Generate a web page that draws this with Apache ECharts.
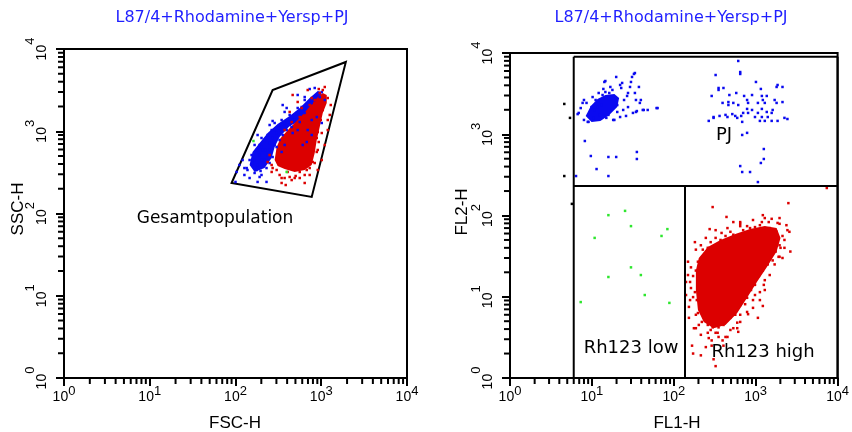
<!DOCTYPE html>
<html><head><meta charset="utf-8">
<script src="https://cdn.jsdelivr.net/npm/echarts@6/dist/echarts.min.js"></script>
<style>html,body{margin:0;padding:0;background:#fff}#c{width:852px;height:432px}</style>
</head><body><div id="c"></div>
<script>
// ---------- data ----------
const titleText = 'L87/4+Rhodamine+Yersp+PJ';
const tickExponents = ['0', '1', '2', '3', '4'];
const minorTicks = [2,3,4,5,6,7,8,9,20,30,40,50,60,70,80,90,200,300,400,500,600,700,800,900,2000,3000,4000,5000,6000,7000,8000,9000];

// Left plot: FSC-H vs SSC-H
const leftBlueCore = [[146,389],[158,560],[191,720],[237,952],[310,1225],[428,1532],[561,1918],[733,2535],[910,3085],[1014,2999],[960,2399],[733,1717],[561,1333],[428,1159],[327,851],[286,643],[264,473],[218,357],[167,320]];
const leftRedCore = [[286,447],[302,643],[336,828],[440,1127],[561,1449],[677,1812],[795,2205],[935,2685],[1042,2915],[1159,2760],[1159,2205],[1042,1667],[960,1127],[886,783],[839,544],[774,389],[641,338],[490,320],[374,348],[310,378]];
const leftBlue = [[733,3260],[1014,2999],[839,2399],[960,2606],[1099,2399],[591,1972],[677,2084],[774,2205],[641,1667],[517,1667],[464,1370],[395,1918],[355,2084],[561,1294],[452,1127],[374,1260],[327,1096],[395,1035],[302,952],[264,1035],[271,828],[237,900],[218,783],[191,681],[250,720],[302,643],[207,592],[176,592],[191,514],[237,514],[271,486],[167,447],[218,447],[250,411],[146,447],[176,338],[230,357],[138,338],[127,357],[167,311],[191,278],[327,783],[345,560],[286,1260],[464,952],[531,1035],[695,1035],[774,900],[677,740],[608,681],[886,1489],[1014,1260],[774,1370],[641,2399],[531,2760],[271,1333],[318,1096],[135,357],[196,329],[181,242],[230,242],[103,320],[100,242],[154,514],[158,411],[201,643],[224,592],[250,592],[286,681],[355,900],[428,1191],[490,1370],[561,1578],[641,1918],[374,681],[201,447],[181,389],
  [127,294],[146,270],[201,294],[111,389],[121,447],[167,681],[201,828],[286,1035],[345,1370],[428,1578],[531,1918],[641,2606],[839,3357],[374,1717],[250,1191],[181,900]];
const leftRed = [[464,2760],[531,2270],[695,3170],[774,2535],[1191,1370],[1014,952],[935,740],[886,560],[839,411],[677,338],[561,320],[327,294],[345,235],[428,278],[302,338],[271,357],[591,1918],[428,1717],[677,1578],[1191,2535],[1042,3170],[935,3260],[1099,3451],[960,2915],[490,270],[406,320],[886,828],[910,592],[795,423],[561,473],[355,783],[374,1035],[452,1294],[561,1489],[733,2084],[839,2399],[1042,1812],[986,1370],[910,979],[250,514],[264,389],[641,294],[733,357],[503,286],[374,270],
  [345,270],[452,255],[561,270],[733,294],[910,338],[1014,447],[1099,681],[1191,1035],[1256,1578],[264,320],[237,423],[385,222],[641,235],[1291,2084]];
const leftGreen = [[162,761],[395,320]];
const gateVertices = [[90,235],[271,3170],[1935,6950],[774,159]];

// Right plot: FL1-H vs FL2-H
const rightBlueCore = [[8.4,1680],[9.7,2230],[11.7,2720],[14.6,3040],[18.8,3130],[21.5,2790],[20.4,2160],[16.3,1730],[12.7,1460],[9.9,1420]];
const rightBlueLowRh = [[32.6,5520],[30.9,5070],[19.8,5070],[22.1,4040],[22.8,3710],[14.6,4520],[29.2,3820],[16.8,3820],[14.6,3310],[27.6,3220],[33.5,3220],[34.5,2640],[38.5,2430],[27.6,2160],[31.7,1830],[34.5,1880],[41.8,1990],[48.0,1990],[63.4,2100],[24.1,1990],[22.1,1630],[18.2,1500],[15.0,1590],[8.0,2640],[8.6,2430],[6.9,1830],[8.0,1500],[9.1,1420],[10.5,1590],[9.9,2160],[12.1,3220],[11.1,2640],[33.5,5670],[14.2,4400],[23.4,4280],[37.5,3820],[30.0,4400],[39.6,2640],[43.0,1990],[35.4,1930],[61.6,2100],[18.8,1500],[8.9,1420],[6.7,1770],[7.7,2430],[8.2,826],[9.7,540],[15.9,525],[19.8,525],[35.4,605],[35.4,496],[11.4,373],[15.9,306],[6.4,306],[13.5,3040],[16.3,3220],[19.3,2790],[20.4,2290],[13.1,2290],[10.8,1990],[20.4,1880],[12.4,1730],[15.9,1730],[24.7,2640],[26.9,2960],[17.8,3510],[11.7,2160],[7.3,2100],[10.2,2870],[26.1,1680],[13.8,3610]];
const rightBlueHighRh = [[612,7980],[647,5830],[647,5520],[324,5360],[1007,4400],[1850,4040],[1800,3820],[2124,3820],[1156,3610],[352,3710],[352,3510],[404,3710],[290,2960],[477,3040],[579,3220],[722,2960],[902,3040],[1189,2960],[1365,2960],[1222,2640],[785,2640],[394,2430],[464,2490],[464,2290],[533,2430],[612,2290],[807,2430],[1064,2430],[1291,2430],[1703,2640],[1800,2430],[2124,2490],[785,2050],[902,1990],[1189,2050],[1365,1880],[1611,1990],[1567,1830],[1064,1830],[703,1830],[518,1770],[428,1730],[362,1680],[306,1630],[452,1630],[563,1680],[665,1680],[807,1830],[980,1630],[1189,1630],[1403,1630],[1291,1460],[1567,1460],[1850,1460],[2244,1590],[2440,1540],[267,1460],[306,1590],[595,1590],[684,1420],[1125,1460],[785,1040],[684,980],[1256,658],[1256,496],[1156,443],[647,406],[684,343],[853,343],[1064,258]];
const rightRedCore = [[202,30],[260,41],[372,50],[563,59],[853,68],[1291,74],[1800,70],[2010,53],[1800,36],[1365,23],[1035,15.2],[785,9.7],[595,6.3],[428,4.5],[306,4.1],[232,4.9],[197,6.9],[186,12.1],[186,21]];
const rightRed = [[298,127],[2506,142],[440,96],[1222,101],[647,83],[647,74],[1567,91],[1189,83],[1955,79],[2372,76],[274,68],[383,61],[2649,36],[2010,40],[1902,31],[1611,28],[181,47],[186,38],[226,31],[172,18],[149,18.5],[162,12.8],[158,9.1],[153,7.5],[172,9.9],[1256,14],[1291,12.1],[1222,7.7],[1064,5.5],[807,6.1],[647,6.0],[595,4.8],[612,3.7],[428,3.2],[352,3.2],[324,3.6],[267,3.1],[176,4.1],[202,4.5],[167,2.5],[246,2.4],[172,2.0],[298,4.2],[352,4.2],[404,4.9],[220,4.9],[197,6.3],[232,5.6],[7380,218],[324,1.4],[452,3.2],[394,2.9],[1442,83],[1850,81],[1955,31],[785,6.5],[595,4.1],
  [197,27],[186,21],[202,14],[181,11.4],[191,9.1],[208,6.9],[186,6.0],[220,27],[282,47],[324,53],[428,56],[491,63],[703,66],[853,70],[980,72],[1291,70],[1483,70],[1800,63],[1125,76],[743,61],[533,58],[372,50],[260,40],[226,38],[1850,50],[1955,43],[1750,36],[1524,30],[1403,25],[1222,21],[1094,18],[980,14],[877,12.1],[785,9.7],[743,8.1],[647,7.9],[563,6.0],[491,5.5],[980,21],[1483,38],[2124,56],[404,4.5],[306,4.9],[260,4.5],[232,6.5],[282,3.9],[372,5.5],[452,5.2],[141,15.2],[214,3.4],[290,2.5],[533,4.1],[927,9.1],[1125,11.4],[2244,50],[2440,66],
  [149,27],[162,23],[141,10.5],[153,5.5],[158,15.2],[260,3.6],[343,3.6],[491,3.9],[647,4.9],[186,4.1],[290,2.9],[404,2.5],[214,1.9],[306,1.7],[2244,40],[2124,30],[1703,25],[1483,18.5],[1291,16],[1125,9.1],[927,7.3],[980,10.5],[2580,63],[324,66],[452,70],[647,79],[927,88],[1291,93],[1955,93],[785,74],[533,83],[246,53],[214,43]];
const rightGreen = [[15.9,101],[25.4,114],[30.0,74],[10.8,53],[83.5,68],[70.8,56],[30.0,23],[39.6,18.5],[15.9,17.5],[44.2,10.5],[7.3,8.6],[88.3,8.4]];
const rightBlack = [[4.6,2360],[5.4,1590],[4.6,306],[5.7,139]];
// quadrant gate thresholds
const quadFL1Low = 6, quadFL1Split = 137, quadFL2Split = 231, quadFL2Top = 9000, quadFL1Max = 10000, axisMin = 1;

// ---------- helpers ----------
const TICK_FONT = 'Liberation Sans';
const BLUE = '#0a0af0', RED = '#dc0000', GREEN = '#2ee62e';
const richX = {
  b: {fontSize: 14, fontFamily: TICK_FONT, color: '#000', lineHeight: 16},
  s: {fontSize: 13, fontFamily: TICK_FONT, color: '#000', lineHeight: 16, padding: [0, 0, 12, 0]}
};
const richY = {
  b: {fontSize: 14, fontFamily: TICK_FONT, color: '#000', lineHeight: 16},
  s: {fontSize: 13, fontFamily: TICK_FONT, color: '#000', lineHeight: 16, padding: [0, 0, 23, 0]}
};
const labelFmt = (v, i) => '{b|10}{s|' + tickExponents[i] + '}';
const axisLineStyle = {color: '#000', width: 2};
const MAJOR_LEN = 8, MINOR_LEN = 6;

function xAxisDef(gi) {
  return {type: 'log', logBase: 10, gridIndex: gi, min: 1, max: 10000, position: 'bottom',
    axisLine: {show: true, onZero: false, lineStyle: axisLineStyle},
    axisTick: {show: true, inside: false, length: MAJOR_LEN, lineStyle: {color: '#000', width: 2}},
    axisLabel: {formatter: labelFmt, rich: richX, margin: 11},
    splitLine: {show: false}, minorTick: {show: false}};
}
function yAxisDef(gi) {
  return {type: 'log', logBase: 10, gridIndex: gi, min: 1, max: 10000, position: 'left',
    axisLine: {show: true, onZero: false, lineStyle: axisLineStyle},
    axisTick: {show: true, inside: false, length: MAJOR_LEN, lineStyle: {color: '#000', width: 2}},
    axisLabel: {formatter: labelFmt, rich: richY, margin: 14, rotate: 90},
    splitLine: {show: false}, minorTick: {show: false}};
}
function polySeries(gi, pts, fill, stroke, lw) {
  return {type: 'custom', xAxisIndex: gi, yAxisIndex: gi, clip: false, silent: true, z: 3,
    data: pts, encode: {x: 0, y: 1},
    renderItem: (params, api) => {
      if (params.dataIndex !== 0) return null;
      const p = pts.map(v => api.coord(v));
      return {type: 'polygon', shape: {points: p},
        style: {fill: fill || 'none', stroke: stroke || null, lineWidth: lw || 0}};
    }};
}
function scatterSeries(gi, pts, color) {
  return {type: 'scatter', xAxisIndex: gi, yAxisIndex: gi, data: pts, symbol: 'rect', symbolSize: 2.5,
    itemStyle: {color: color, opacity: 1}, silent: true, clip: false, z: 3};
}
function minorTickSeries(gi) {
  const data = minorTicks.map(v => [v, v]);
  return {type: 'custom', xAxisIndex: gi, yAxisIndex: gi, clip: false, silent: true, z: 10,
    data: data, encode: {x: 0, y: 1},
    renderItem: (params, api) => {
      if (params.dataIndex !== 0) return null;
      const children = [];
      minorTicks.forEach(v => {
        const px = api.coord([v, axisMin]);
        const py = api.coord([axisMin, v]);
        children.push({type: 'line', shape: {x1: px[0], y1: px[1], x2: px[0], y2: px[1] + MINOR_LEN},
          style: {stroke: '#000', lineWidth: 2}});
        children.push({type: 'line', shape: {x1: py[0], y1: py[1], x2: py[0] - MINOR_LEN, y2: py[1]},
          style: {stroke: '#000', lineWidth: 2}});
      });
      return {type: 'group', children: children};
    }};
}
const quadSegments = [
  [quadFL1Low, axisMin, quadFL1Low, quadFL2Top],
  [quadFL1Low, quadFL2Top, quadFL1Max, quadFL2Top],
  [quadFL1Low, quadFL2Split, quadFL1Max, quadFL2Split],
  [quadFL1Split, axisMin, quadFL1Split, quadFL2Split],
  [quadFL1Max, axisMin, quadFL1Max, quadFL2Top]
];
const quadSeries = {type: 'custom', xAxisIndex: 1, yAxisIndex: 1, clip: false, silent: true, z: 5,
  data: quadSegments, encode: {x: [0, 2], y: [1, 3]},
  renderItem: (params, api) => {
    if (params.dataIndex !== 0) return null;
    const children = quadSegments.map(s => {
      const a = api.coord([s[0], s[1]]);
      const b = api.coord([s[2], s[3]]);
      return {type: 'line', shape: {x1: a[0], y1: a[1], x2: b[0], y2: b[1]}, style: {stroke: '#000', lineWidth: 2}};
    });
    return {type: 'group', children: children};
  }};

const txt = (text, x, y, size, color, family, rot) => ({type: 'text', x: x, y: y, rotation: rot || 0, silent: true, z: 20,
  style: {text: text, font: size + 'px "' + (family || 'DejaVu Sans') + '"', fill: color || '#000',
    align: 'center', verticalAlign: 'middle', textAlign: 'center', textVerticalAlign: 'middle'}});

const option = {
  animation: false,
  backgroundColor: '#fff',
  grid: [
    {left: 64, top: 49, width: 343, height: 329, show: true, borderColor: '#000', borderWidth: 2, backgroundColor: 'transparent'},
    {left: 510, top: 53, width: 335, height: 325, show: true, borderColor: '#000', borderWidth: 2, backgroundColor: 'transparent'}
  ],
  xAxis: [xAxisDef(0), xAxisDef(1)],
  yAxis: [yAxisDef(0), yAxisDef(1)],
  series: [
    minorTickSeries(0), minorTickSeries(1),
    polySeries(0, leftBlueCore, BLUE),
    polySeries(0, leftRedCore, RED),
    scatterSeries(0, leftBlue, BLUE),
    scatterSeries(0, leftRed, RED),
    scatterSeries(0, leftGreen, GREEN),
    polySeries(0, gateVertices, null, '#000', 2),
    quadSeries,
    polySeries(1, rightBlueCore, BLUE),
    scatterSeries(1, rightBlueLowRh, BLUE),
    scatterSeries(1, rightBlueHighRh, BLUE),
    polySeries(1, rightRedCore, RED),
    scatterSeries(1, rightRed, RED),
    scatterSeries(1, rightGreen, GREEN),
    scatterSeries(1, rightBlack, '#000')
  ],
  graphic: [
    txt(titleText, 232, 18, 16, '#1f1fff'),
    txt(titleText, 671, 18, 16, '#1f1fff'),
    txt('Gesamtpopulation', 215, 219, 17),
    txt('PJ', 724, 135, 18),
    txt('Rh123 low', 631, 348, 18),
    txt('Rh123 high', 763, 352, 18),
    txt('FSC-H', 235, 423, 17, '#000', TICK_FONT),
    txt('FL1-H', 677, 423, 17, '#000', TICK_FONT),
    txt('SSC-H', 18, 209, 17, '#000', TICK_FONT, Math.PI / 2),
    txt('FL2-H', 462, 212, 17, '#000', TICK_FONT, Math.PI / 2)
  ]
};
const chart = echarts.init(document.getElementById('c'), null, {renderer: 'canvas'});
chart.setOption(option);
</script>
</body></html>
